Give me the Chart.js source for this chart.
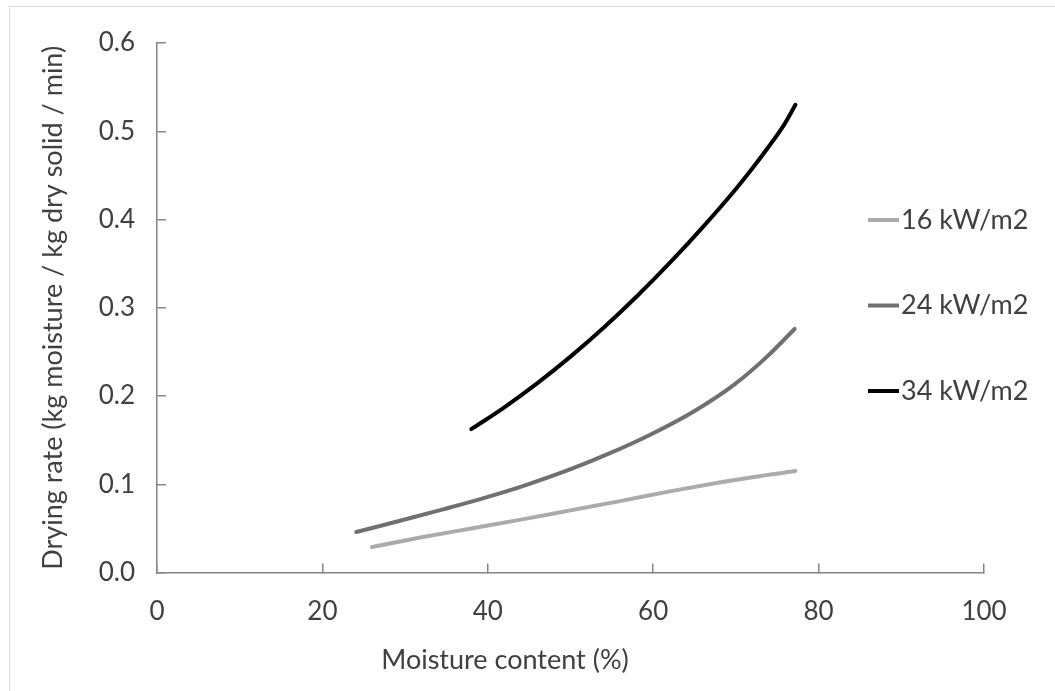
<!DOCTYPE html>
<html>
<head>
<meta charset="utf-8">
<script src="https://cdn.jsdelivr.net/npm/chart.js@4"></script>
<style>
  html, body { margin: 0; padding: 0; background: #fff; overflow: hidden; }
  #frame {
    position: absolute; left: 9px; top: 6px; width: 1046px; height: 685px;
    border-left: 1px solid #dcdcdc; border-top: 1px solid #dcdcdc;
  }
  #chart { display: block; }
</style>
</head>
<body>
<div id="frame"><canvas id="chart" width="1045" height="684"></canvas></div>
<script>
// moisture content (%) / drying rate for each heat flux
const labels16 = "16 kW/m2";
const moist16 = [26, 32, 38, 44, 50, 56, 62, 68, 73, 77.2];
const rate16 = [0.029, 0.04, 0.05, 0.06, 0.0705, 0.081, 0.092, 0.102, 0.1095, 0.115];

const labels24 = "24 kW/m2";
const moist24 = [24.1, 29.5, 34.6, 39.6, 44.6, 49.7, 54.7, 59.7, 64.8, 69.8, 73.8, 77.1];
const rate24 = [0.046, 0.059, 0.0717, 0.0847, 0.0992, 0.116, 0.135, 0.1565, 0.182, 0.213, 0.245, 0.276];

const labels34 = "34 kW/m2";
const moist34 = [38, 42, 46, 50, 54, 58, 62, 66, 70, 72, 74, 75.8, 77.2];
const rate34 = [0.1625, 0.1873, 0.2147, 0.2447, 0.2774, 0.3128, 0.3508, 0.3914, 0.4346, 0.458, 0.483, 0.507, 0.53];

const xTicks = [0, 20, 40, 60, 80, 100];
const yTicks = [0, 0.1, 0.2, 0.3, 0.4, 0.5, 0.6];

const textColor = "#404040";
const axisColor = "#868686";
const fontFamily = "Lato, 'Open Sans', sans-serif";

function toPoints(xs, ys) {
    return xs.map((x, i) => ({ x: x, y: ys[i] }));
}

function series(label, xs, ys, color) {
    return {
        label: label,
        data: toPoints(xs, ys),
        borderColor: color,
        backgroundColor: color,
        borderWidth: 4,
        pointRadius: 0,
        showLine: true,
        cubicInterpolationMode: "monotone",
        borderCapStyle: "round"
    };
}

// legend sits inside the plot area on the right, like the Excel original
const insideLegend = {
    id: "insideLegend",
    afterDraw(chart) {
        const ctx = chart.ctx;
        const area = chart.chartArea;
        const x0 = area.right - 116;
        ctx.save();
        ctx.font = "27px " + fontFamily;
        ctx.textBaseline = "middle";
        ctx.textAlign = "left";
        chart.data.datasets.forEach((ds, i) => {
            const y = area.top + 177 + i * 85.5;
            ctx.strokeStyle = ds.borderColor;
            ctx.lineWidth = 4;
            ctx.beginPath();
            ctx.moveTo(x0, y);
            ctx.lineTo(x0 + 31, y);
            ctx.stroke();
            ctx.fillStyle = textColor;
            ctx.fillText(ds.label, x0 + 33, y);
        });
        ctx.restore();
    }
};

new Chart(document.getElementById("chart"), {
    type: "scatter",
    data: {
        datasets: [
            series(labels16, moist16, rate16, "#ababab"),
            series(labels24, moist24, rate24, "#707070"),
            series(labels34, moist34, rate34, "#000000")
        ]
    },
    options: {
        responsive: false,
        animation: false,
        layout: { padding: { left: 16, top: 36, right: 71, bottom: 0 } },
        plugins: {
            legend: { display: false },
            tooltip: { enabled: false },
            title: {
                display: true,
                position: "bottom",
                text: "Moisture content (%)",
                color: textColor,
                font: { family: fontFamily, size: 27, weight: "normal" },
                padding: { top: 0, bottom: 15 }
            }
        },
        scales: {
            x: {
                type: "linear",
                min: 0,
                max: 100,
                afterBuildTicks: (scale) => { scale.ticks = xTicks.map(v => ({ value: v })); },
                afterFit: (scale) => { scale.height = 71; },
                border: { display: true, color: axisColor, width: 1.5 },
                grid: { drawOnChartArea: false, tickLength: -9, color: axisColor, lineWidth: 1.5 },
                ticks: { color: textColor, padding: 32, font: { family: fontFamily, size: 26 } }
            },
            y: {
                type: "linear",
                min: 0,
                max: 0.6,
                afterBuildTicks: (scale) => { scale.ticks = yTicks.map(v => ({ value: v })); },
                afterFit: (scale) => { scale.width = 131; },
                border: { display: true, color: axisColor, width: 1.5 },
                grid: { drawOnChartArea: false, tickLength: -9, color: axisColor, lineWidth: 1.5 },
                ticks: {
                    color: textColor,
                    padding: 31,
                    // small line height keeps the top label from pushing the plot down
                    font: { family: fontFamily, size: 26, lineHeight: 0.3 },
                    callback: (v) => v.toFixed(1)
                },
                title: {
                    display: true,
                    text: "Drying rate (kg moisture / kg dry solid / min)",
                    color: textColor,
                    font: { family: fontFamily, size: 27 },
                    padding: { top: 11, bottom: 0 }
                }
            }
        }
    },
    plugins: [insideLegend]
});
</script>
</body>
</html>
